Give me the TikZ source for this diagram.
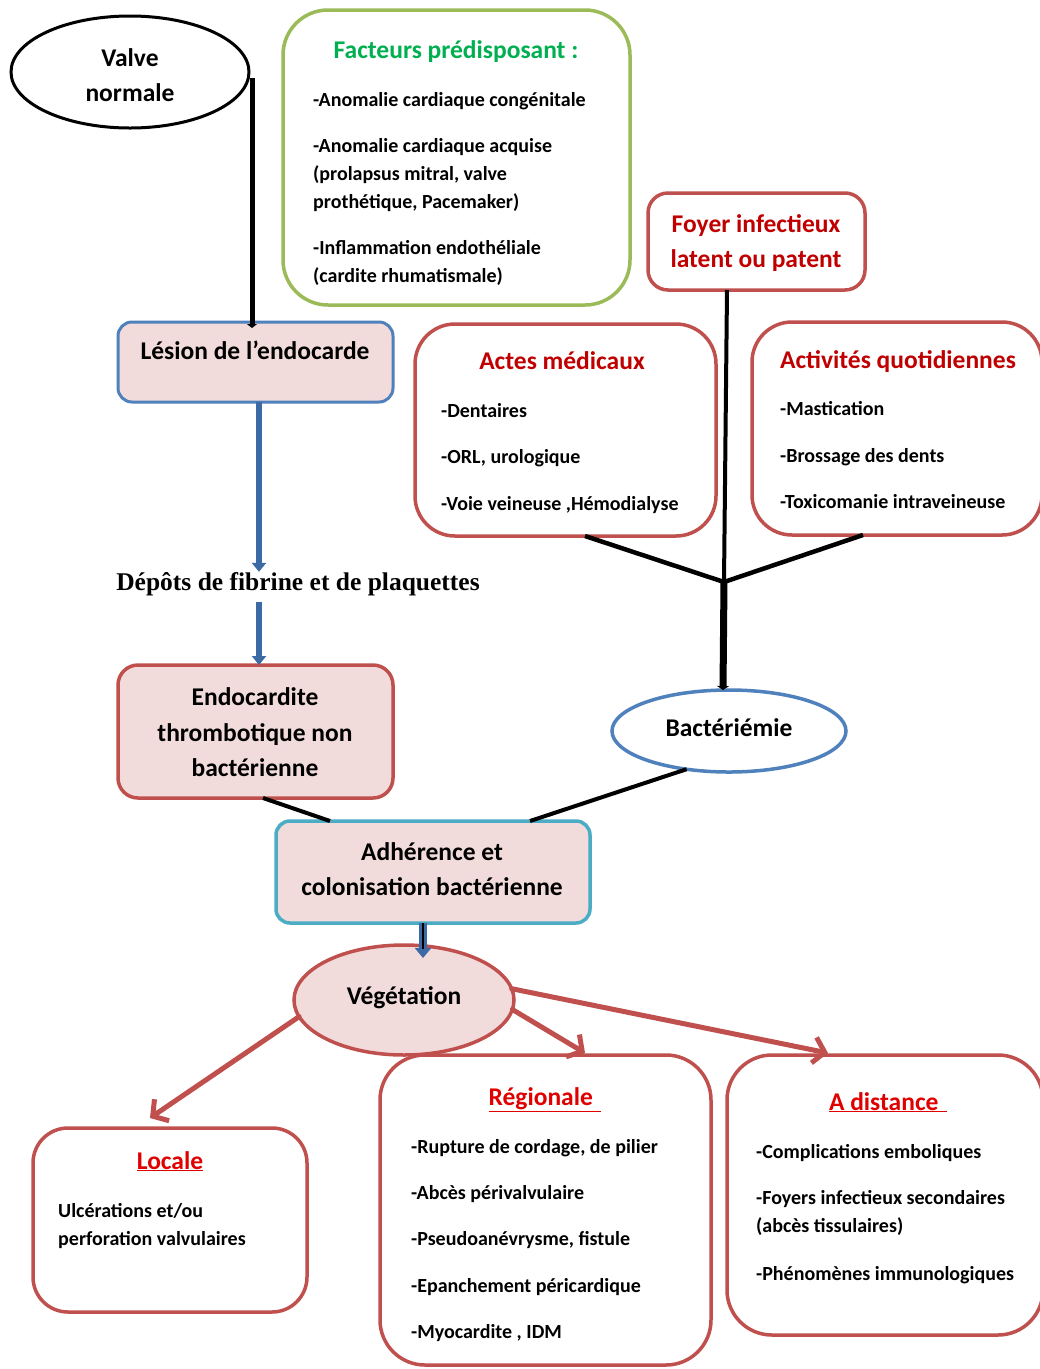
\documentclass[tikz,border=0pt]{standalone}
\usepackage{fontspec}
\setmainfont{Carlito}
\newfontfamily\timesf{Liberation Serif}
\usetikzlibrary{shapes.geometric,arrows.meta}
\definecolor{rbord}{HTML}{C0504D}
\definecolor{pinkf}{HTML}{F2DCDB}
\definecolor{bbord}{HTML}{4F81BD}
\definecolor{gbord}{HTML}{9BBB59}
\definecolor{gtext}{HTML}{00B050}
\definecolor{drtext}{HTML}{C00000}
\definecolor{ultext}{HTML}{E00000}
\definecolor{cbord}{HTML}{4BACC6}
\definecolor{barrow}{HTML}{3C6AA5}
\newcommand\fbig{\fontsize{25.5}{30}\selectfont\bfseries}
\newcommand\fsm{\fontsize{20}{24}\selectfont\bfseries}
\begin{document}
\begin{tikzpicture}[x=1pt,y=-1pt,
  box/.style={draw, rectangle, inner sep=0pt, outer sep=0pt, line width=3.5pt},
  ell/.style={draw, ellipse, inner sep=0pt, outer sep=0pt, line width=3.5pt},
  big/.style={inner sep=0pt, anchor=base, font=\fbig},
  item/.style={inner sep=0pt, anchor=base west, font=\fsm},
  blk/.style={line width=4.5pt, black},
  barr/.style={line width=6pt, barrow, -{Triangle[length=9pt,width=14pt]}},
  rarr/.style={line width=5pt, rbord, line cap=round, -{Straight Barb[length=11pt,width=26pt]}}
]
\clip (0,0) rectangle (1040,1369);
\fill[white] (0,0) rectangle (1040,1369);

% ---------- shapes ----------
\node[ell, draw=black, line width=3pt, minimum width=238pt, minimum height=112pt] (valve) at (130,72) {};
\node[box, draw=gbord, rounded corners=45pt, minimum width=347pt, minimum height=295pt] (fac) at (456.5,157.5) {};
\node[box, draw=bbord, fill=pinkf, rounded corners=14pt, line width=3pt, minimum width=275pt, minimum height=80pt] (les) at (255.5,362) {};
\node[box, draw=rbord, fill=pinkf, rounded corners=20pt, minimum width=275pt, minimum height=133pt] (endo) at (255.5,731.5) {};
\node[box, draw=rbord, rounded corners=20pt, minimum width=217pt, minimum height=97pt] (foy) at (756.5,241.5) {};
\node[box, draw=rbord, rounded corners=40pt, minimum width=301pt, minimum height=212pt] (act) at (565.5,430) {};
\node[box, draw=rbord, rounded corners=40pt, minimum width=290pt, minimum height=213pt] (actq) at (897,428.5) {};
\node[ell, draw=bbord, minimum width=234pt, minimum height=82pt] (bac) at (729,731) {};
\node[box, draw=cbord, fill=pinkf, rounded corners=14pt, minimum width=314pt, minimum height=102pt] (adh) at (433,872) {};
\node[ell, draw=rbord, fill=pinkf, minimum width=220pt, minimum height=110pt] (veg) at (404,1000) {};
\node[box, draw=rbord, rounded corners=35pt, minimum width=274pt, minimum height=184pt] (loc) at (170,1220) {};
\node[box, draw=rbord, rounded corners=45pt, minimum width=331pt, minimum height=310pt] (reg) at (545.5,1210) {};
\node[box, draw=rbord, rounded corners=45pt, minimum width=316pt, minimum height=280pt] (dist) at (885,1195) {};

% ---------- texts ----------
\node[big] (tv1) at (130,66) {Valve};
\node[big] (tv2) at (130,101) {normale};

\node[big, text=gtext] (tf0) at (456,58) {Facteurs prédisposant :};
\node[item] (tf1) at (313,106) {-Anomalie cardiaque congénitale};
\node[item] (tf2) at (313,152) {-Anomalie cardiaque acquise};
\node[item] (tf3) at (313,180) {(prolapsus mitral, valve};
\node[item] (tf4) at (313,208) {prothétique, Pacemaker)};
\node[item] (tf5) at (313,254) {-Inflammation endothéliale};
\node[item] (tf6) at (313,282) {(cardite rhumatismale)};

\node[big] (tl) at (255,359) {Lésion de l’endocarde};

\node[inner sep=0pt, anchor=base, font=\timesf\fontsize{25.5}{30}\selectfont\bfseries] (dep) at (298,590) {Dépôts de fibrine et de plaquettes};

\node[big] (te1) at (255,705) {Endocardite};
\node[big] (te2) at (255,741) {thrombotique non};
\node[big] (te3) at (255,776) {bactérienne};

\node[big, text=drtext] (tfo1) at (756,232) {Foyer infectieux};
\node[big, text=drtext] (tfo2) at (756,267) {latent ou patent};

\node[big, text=drtext] (ta0) at (562,369) {Actes médicaux};
\node[item] (ta1) at (441,417) {-Dentaires};
\node[item] (ta2) at (441,463) {-ORL, urologique};
\node[item] (ta3) at (441,510) {-Voie veineuse ,Hémodialyse};

\node[big, text=drtext] (tq0) at (898,368) {Activités quotidiennes};
\node[item] (tq1) at (780,415) {-Mastication};
\node[item] (tq2) at (780,462) {-Brossage des dents};
\node[item] (tq3) at (780,508) {-Toxicomanie intraveineuse};

\node[big] (tb) at (729,736) {Bactériémie};

\node[big] (tad1) at (432,860) {Adhérence et};
\node[big] (tad2) at (432,895) {colonisation bactérienne};

\node[big] (tvg) at (404,1004) {Végétation};

\node[big, text=ultext] (tlo0) at (170,1169) {\underline{Locale}};
\node[item] (tlo1) at (58,1217) {Ulcérations et/ou};
\node[item] (tlo2) at (58,1245) {perforation valvulaires};

\node[big, text=ultext] (tr0) at (545,1105) {\underline{Régionale\,\,}};
\node[item] (tr1) at (411,1153) {-Rupture de cordage, de pilier};
\node[item] (tr2) at (411,1199) {-Abcès périvalvulaire};
\node[item] (tr3) at (411,1245) {-Pseudoanévrysme, fistule};
\node[item] (tr4) at (411,1292) {-Epanchement péricardique};
\node[item] (tr5) at (411,1338) {-Myocardite , IDM};

\node[big, text=ultext] (td0) at (888,1110) {\underline{A distance\,\,}};
\node[item] (td1) at (756,1158) {-Complications emboliques};
\node[item] (td2) at (756,1204) {-Foyers infectieux secondaires};
\node[item] (td3) at (756,1232) {(abcès tissulaires)};
\node[item] (td4) at (756,1280) {-Phénomènes immunologiques};

% ---------- connectors ----------
\draw[blk, line width=5pt, -{Triangle[length=4pt,width=10pt]}]
  ([xshift=3pt,yshift=-6pt]valve.east) -- ([xshift=3pt,yshift=-6pt]valve.east |- les.north);
\draw[barr] ([xshift=3.5pt]les.south) -- ([xshift=3.5pt]les.south |- dep.north);
\draw[barr] ([xshift=3.5pt,yshift=-6pt]les.south |- dep.south) -- ([xshift=3.5pt]endo.north);

\coordinate (jn) at (724,582);
\draw[blk, line width=4pt] ([xshift=-29.5pt]foy.south) -- (jn);
\draw[blk] ([xshift=19.5pt]act.south) -- (jn);
\draw[blk] ([xshift=111pt]actq.south west) -- (jn);
\draw[blk, line width=7pt, -{Triangle[length=4pt,width=12pt]}] (jn) -- ([xshift=-6pt]bac.north);

\draw[blk, line width=4pt] ([xshift=7.5pt]endo.south) -- ([xshift=54pt]adh.north west);
\draw[blk, line width=4pt] (bac.222) -- ([xshift=-60pt]adh.north east);

\draw[line width=8pt, barrow, -{Triangle[length=10pt,width=16pt]}] ([xshift=-10pt]adh.south) -- ([xshift=19pt,yshift=-13pt]veg.north);
\draw[line width=2pt, black] ([xshift=-10pt]adh.south) -- ([xshift=19pt,yshift=-4pt]veg.north);

\draw[rarr] (veg.189) -- ([xshift=117pt,yshift=10pt]loc.north west);
\draw[rarr] (veg.355) -- ([xshift=205pt,yshift=2pt]reg.north west);
\draw[rarr] (veg.6) -- ([xshift=101pt,yshift=2pt]dist.north west);
\end{tikzpicture}
\end{document}
